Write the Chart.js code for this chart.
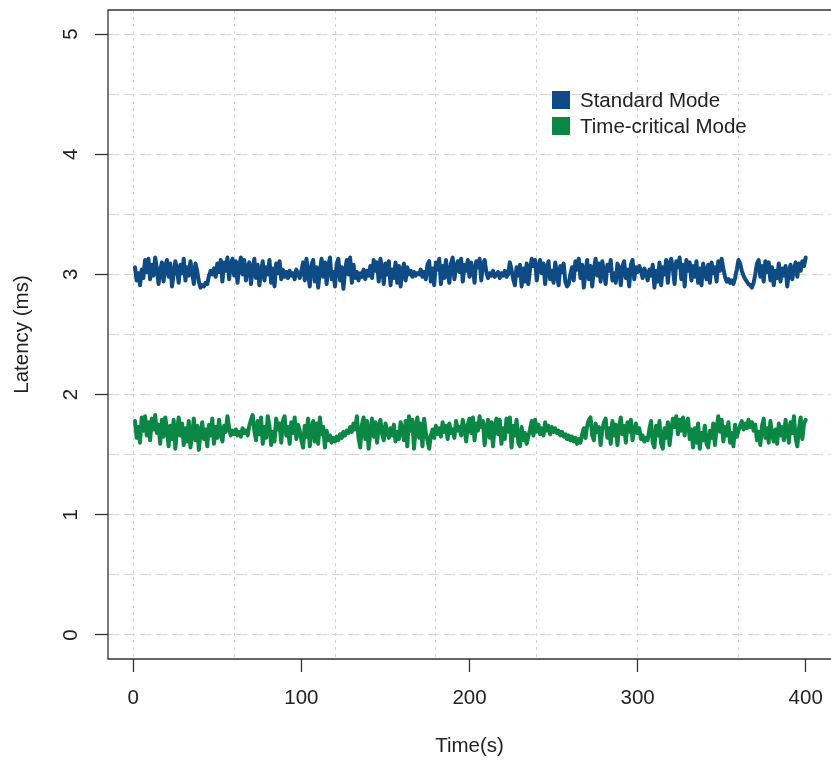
<!DOCTYPE html>
<html>
<head>
<meta charset="utf-8">
<script src="https://cdn.jsdelivr.net/npm/chart.js@4.4.1/dist/chart.umd.min.js"></script>
<style>
  html, body { margin: 0; padding: 0; background: #fff; overflow: hidden; }
  #wrap { width: 831px; height: 762px; }
</style>
</head>
<body>
<div id="wrap"><canvas id="latencyChart" width="831" height="762"></canvas></div>
<script>
// time axis: one sample per second, 1..400
const seconds = Array.from({ length: 400 }, (_, i) => i + 1);

// latency (ms)
const standardMode = [
  3.06, 2.95, 3.01, 2.91, 3.04, 2.97, 3.12, 3.02, 3.13, 2.96, 3.08, 2.99, 3.14, 3.05, 2.92, 3.03, 3.10, 2.94, 3.07, 3.12,
  2.98, 3.09, 2.90, 3.00, 3.11, 3.04, 2.93, 3.08, 3.01, 3.13, 2.95, 3.06, 2.99, 3.11, 3.02, 2.92, 3.09, 3.03, 2.94, 2.89,
  2.91, 2.90, 2.93, 2.92, 2.99, 3.03, 3.00, 3.05, 2.98, 3.09, 3.02, 3.12, 2.94, 3.10, 3.03, 3.14, 2.96, 3.08, 3.13, 2.99,
  3.11, 2.93, 3.07, 3.14, 3.00, 3.12, 2.95, 3.06, 3.10, 2.92, 3.04, 3.13, 2.97, 3.08, 2.91, 3.02, 3.11, 2.95, 3.06, 3.00,
  3.12, 2.93, 3.05, 2.90, 3.09, 3.01, 3.11, 2.96, 3.04, 2.98, 3.02, 2.97, 3.03, 2.99, 3.01, 2.96, 3.04, 3.00, 2.97, 3.03,
  3.10, 2.95, 3.13, 3.01, 2.90, 3.08, 3.12, 2.94, 3.06, 2.89, 3.03, 3.13, 2.98, 3.10, 2.92, 3.07, 3.14, 2.96, 3.02, 2.90,
  3.09, 3.13, 2.95, 3.06, 2.88, 3.04, 3.12, 3.00, 3.14, 2.93, 3.08, 2.97, 3.02, 2.95, 3.01, 2.98, 3.04, 2.96, 3.03, 2.99,
  3.07, 2.97, 3.12, 3.03, 3.10, 2.94, 3.13, 3.05, 2.92, 3.09, 3.00, 3.11, 2.91, 3.04, 2.97, 3.10, 2.93, 3.07, 2.90, 3.03,
  3.09, 2.95, 3.06, 3.00, 3.03, 2.98, 3.02, 2.99, 3.01, 3.00, 3.04, 2.98, 3.02, 2.96, 3.08, 3.11, 2.94, 3.05, 2.91, 3.10,
  3.04, 3.13, 2.92, 3.07, 2.97, 3.12, 3.01, 2.93, 3.09, 3.14, 2.96, 3.06, 3.11, 3.02, 3.13, 2.94, 3.08, 3.03, 3.12, 2.98,
  3.10, 3.04, 2.93, 3.11, 3.06, 3.13, 2.95, 3.09, 3.12, 3.02, 2.97, 3.01, 2.99, 3.03, 2.98, 3.00, 3.02, 2.97, 3.01, 2.99,
  3.03, 2.98, 3.00, 3.10, 3.04, 2.96, 2.91, 3.06, 2.99, 3.08, 2.90, 3.05, 2.94, 3.09, 2.92, 3.04, 3.13, 3.07, 3.12, 2.95,
  3.06, 3.12, 3.01, 3.09, 2.92, 3.05, 3.11, 2.96, 3.03, 2.93, 3.10, 3.00, 2.91, 3.07, 3.02, 3.09, 2.94, 2.90, 2.92, 3.00,
  3.06, 2.95, 3.11, 3.04, 3.13, 2.97, 3.08, 2.89, 3.02, 3.12, 2.96, 3.07, 2.90, 3.04, 3.13, 2.99, 3.09, 2.94, 3.11, 3.01,
  2.92, 3.08, 3.03, 3.12, 2.95, 3.01, 2.93, 3.09, 3.05, 2.91, 3.07, 3.11, 2.97, 3.04, 2.90, 3.08, 3.12, 2.96, 3.06, 3.02,
  3.07, 3.03, 2.97, 3.05, 3.01, 2.95, 3.04, 2.99, 3.08, 2.89, 3.03, 2.94, 3.10, 2.91, 3.06, 3.00, 3.12, 2.93, 3.09, 3.13,
  3.04, 2.92, 3.11, 3.06, 3.14, 2.96, 3.08, 2.90, 3.12, 3.03, 3.10, 2.95, 3.07, 2.98, 3.11, 2.93, 3.05, 2.91, 3.09, 3.02,
  2.96, 3.08, 2.93, 3.10, 3.01, 3.06, 2.94, 3.11, 3.03, 3.13, 3.05, 2.98, 2.94, 2.96, 2.93, 2.95, 2.92, 2.97, 3.04, 3.12,
  3.09, 3.03, 2.99, 2.96, 2.94, 2.92, 2.91, 2.89, 2.93, 3.00, 3.09, 3.12, 2.98, 3.07, 2.94, 3.11, 3.02, 3.10, 2.95, 3.06,
  2.91, 3.03, 2.97, 3.09, 2.94, 3.05, 2.99, 3.07, 2.90, 3.02, 3.08, 2.96, 3.04, 3.10, 2.98, 3.09, 3.03, 3.11, 3.07, 3.14
];

const timeCriticalMode = [
  1.78, 1.64, 1.73, 1.60, 1.81, 1.70, 1.82, 1.66, 1.77, 1.62, 1.80, 1.71, 1.83, 1.68, 1.75, 1.59, 1.79, 1.65, 1.81, 1.72,
  1.57, 1.74, 1.63, 1.79, 1.55, 1.70, 1.81, 1.66, 1.76, 1.58, 1.72, 1.61, 1.78, 1.56, 1.67, 1.80, 1.62, 1.74, 1.54, 1.69,
  1.77, 1.63, 1.71, 1.57, 1.75, 1.66, 1.80, 1.59, 1.73, 1.64, 1.79, 1.68, 1.61, 1.74, 1.69, 1.82, 1.72, 1.66, 1.70, 1.67,
  1.71, 1.66, 1.69, 1.65, 1.72, 1.68, 1.70, 1.66, 1.74, 1.79, 1.83, 1.70, 1.62, 1.78, 1.67, 1.81, 1.59, 1.73, 1.64, 1.82,
  1.74, 1.58, 1.69, 1.61, 1.80, 1.71, 1.76, 1.60, 1.78, 1.82, 1.66, 1.73, 1.59, 1.77, 1.68, 1.81, 1.63, 1.75, 1.70, 1.62,
  1.56, 1.74, 1.65, 1.80, 1.57, 1.71, 1.78, 1.61, 1.76, 1.59, 1.81, 1.67, 1.73, 1.56, 1.70, 1.62, 1.66, 1.60, 1.64, 1.61,
  1.65, 1.62, 1.67, 1.64, 1.69, 1.66, 1.70, 1.68, 1.73, 1.69, 1.76, 1.71, 1.82, 1.64, 1.56, 1.75, 1.81, 1.63, 1.78, 1.55,
  1.69, 1.80, 1.65, 1.77, 1.60, 1.74, 1.79, 1.67, 1.62, 1.76, 1.70, 1.64, 1.72, 1.66, 1.75, 1.61, 1.69, 1.63, 1.77, 1.71,
  1.62, 1.78, 1.57, 1.82, 1.70, 1.79, 1.55, 1.73, 1.81, 1.64, 1.76, 1.57, 1.80, 1.68, 1.62, 1.55, 1.66, 1.71, 1.64, 1.74,
  1.67, 1.72, 1.65, 1.77, 1.69, 1.74, 1.63, 1.76, 1.68, 1.71, 1.64, 1.78, 1.70, 1.73, 1.66, 1.79, 1.72, 1.61, 1.75, 1.80,
  1.68, 1.81, 1.62, 1.76, 1.70, 1.82, 1.73, 1.78, 1.58, 1.71, 1.79, 1.64, 1.77, 1.57, 1.74, 1.80, 1.67, 1.79, 1.59, 1.72,
  1.63, 1.80, 1.69, 1.81, 1.56, 1.74, 1.66, 1.79, 1.60, 1.57, 1.73, 1.62, 1.68, 1.59, 1.65, 1.71, 1.78, 1.66, 1.79, 1.69,
  1.75, 1.67, 1.72, 1.66, 1.77, 1.70, 1.74, 1.67, 1.73, 1.69, 1.72, 1.68, 1.70, 1.66, 1.69, 1.65, 1.67, 1.63, 1.66, 1.62,
  1.65, 1.61, 1.64, 1.59, 1.63, 1.60, 1.67, 1.72, 1.64, 1.74, 1.79, 1.81, 1.66, 1.62, 1.76, 1.69, 1.73, 1.58, 1.71, 1.77,
  1.80, 1.64, 1.72, 1.59, 1.78, 1.66, 1.75, 1.58, 1.73, 1.81, 1.67, 1.74, 1.60, 1.77, 1.69, 1.79, 1.62, 1.70, 1.76, 1.68,
  1.72, 1.63, 1.66, 1.61, 1.64, 1.62, 1.71, 1.78, 1.60, 1.56, 1.74, 1.66, 1.78, 1.59, 1.55, 1.72, 1.64, 1.77, 1.58, 1.70,
  1.80, 1.73, 1.82, 1.67, 1.79, 1.70, 1.81, 1.66, 1.76, 1.80, 1.63, 1.71, 1.56, 1.72, 1.60, 1.76, 1.55, 1.68, 1.62, 1.74,
  1.59, 1.56, 1.70, 1.64, 1.76, 1.58, 1.72, 1.82, 1.69, 1.79, 1.61, 1.73, 1.66, 1.77, 1.60, 1.68, 1.57, 1.75, 1.65, 1.70,
  1.74, 1.78, 1.71, 1.76, 1.72, 1.79, 1.73, 1.77, 1.70, 1.75, 1.62, 1.69, 1.58, 1.74, 1.80, 1.64, 1.72, 1.60, 1.78, 1.67,
  1.61, 1.71, 1.59, 1.76, 1.66, 1.73, 1.62, 1.79, 1.70, 1.60, 1.77, 1.68, 1.82, 1.64, 1.57, 1.72, 1.81, 1.63, 1.76, 1.79
];

const seriesNames = ['Standard Mode', 'Time-critical Mode'];
const seriesColors = ['#0e4a84', '#0a8744'];

const xTickLabels = [0, 100, 200, 300, 400];
const xGridLines = [0, 60, 120, 180, 240, 300, 360];
const yTickLabels = [0, 1, 2, 3, 4, 5];
const yGridLines = [0, 0.5, 1, 1.5, 2, 2.5, 3, 3.5, 4, 4.5, 5];

const FONT = { family: '"Liberation Sans", Arial, Helvetica, sans-serif', size: 20.5 };
const TEXT = '#222';
const GRID = '#d3d3d3';
const AXIS = '#333';

// frame on top, left and bottom; the right side falls just past the canvas edge
const boxPlugin = {
  id: 'box',
  beforeDatasetsDraw(chart) {
    const { ctx, chartArea: a } = chart;
    ctx.save();
    ctx.strokeStyle = AXIS;
    ctx.lineWidth = 1.3;
    ctx.beginPath();
    ctx.moveTo(a.right + 2, a.top);
    ctx.lineTo(a.left, a.top);
    ctx.lineTo(a.left, a.bottom);
    ctx.lineTo(a.right + 2, a.bottom);
    ctx.stroke();
    ctx.restore();
  }
};

// legend inside the plot, no frame
const legendPlugin = {
  id: 'insideLegend',
  afterDraw(chart) {
    const { ctx } = chart;
    ctx.save();
    ctx.font = FONT.size + 'px ' + FONT.family;
    ctx.textBaseline = 'middle';
    chart.data.datasets.forEach((ds, i) => {
      const y = 100 + i * 26;
      ctx.fillStyle = ds.borderColor;
      ctx.fillRect(552, y - 9, 18, 18);
      ctx.fillStyle = TEXT;
      ctx.fillText(ds.label, 580, y + 1);
    });
    ctx.restore();
  }
};

const onTick = (list, on, off) => (c) => (c.tick && list.includes(c.tick.value) ? on : off);

const lineStyle = (color) => ({
  borderColor: color,
  backgroundColor: color,
  borderWidth: 4,
  pointRadius: 0,
  tension: 0,
  borderJoinStyle: 'round',
  borderCapStyle: 'round'
});

new Chart(document.getElementById('latencyChart').getContext('2d'), {
  type: 'line',
  data: {
    labels: seconds,
    datasets: [
      { label: seriesNames[0], data: standardMode, ...lineStyle(seriesColors[0]) },
      { label: seriesNames[1], data: timeCriticalMode, ...lineStyle(seriesColors[1]) }
    ]
  },
  options: {
    responsive: false,
    animation: false,
    devicePixelRatio: 1,
    layout: { padding: { top: 10, right: 0, left: 0, bottom: 0 } },
    plugins: { legend: { display: false }, tooltip: { enabled: false } },
    scales: {
      x: {
        type: 'linear',
        min: -15.05,
        max: 415.05,
        afterBuildTicks(scale) {
          const vals = [...new Set([...xTickLabels, ...xGridLines])].sort((a, b) => a - b);
          scale.ticks = vals.map(v => ({ value: v }));
        },
        afterFit(scale) {
          scale.height = 103;
          scale.paddingLeft = 0;
          scale.paddingRight = 0;
        },
        border: { display: false, dash: [3, 4] },
        grid: {
          color: onTick(xGridLines, GRID, 'transparent'),
          lineWidth: 1,
          tickColor: onTick(xTickLabels, AXIS, 'transparent'),
          tickLength: 13,
          tickWidth: 1.3,
          tickBorderDash: []
        },
        ticks: {
          autoSkip: false,
          maxRotation: 0,
          padding: 14,
          color: TEXT,
          font: FONT,
          callback: (v) => (xTickLabels.includes(v) ? String(v) : '')
        },
        title: { display: true, text: 'Time(s)', color: TEXT, font: FONT, padding: { top: 0, bottom: 3 } }
      },
      y: {
        type: 'linear',
        min: -0.2,
        max: 5.2,
        afterBuildTicks(scale) {
          scale.ticks = yGridLines.map(v => ({ value: v }));
        },
        afterFit(scale) {
          scale.width = 108;
          scale.paddingTop = 0;
          scale.paddingBottom = 0;
        },
        border: { display: false, dash: [11, 5] },
        grid: {
          color: GRID,
          lineWidth: 1,
          tickColor: onTick(yTickLabels, AXIS, 'transparent'),
          tickLength: 13,
          tickWidth: 1.3,
          tickBorderDash: []
        },
        ticks: {
          autoSkip: false,
          minRotation: 90,
          maxRotation: 90,
          crossAlign: 'center',
          padding: 18,
          color: TEXT,
          font: FONT,
          callback: (v) => (yTickLabels.includes(v) ? String(v) : '')
        },
        title: { display: true, text: 'Latency (ms)', color: TEXT, font: FONT, padding: { top: 10, bottom: 0 } }
      }
    }
  },
  plugins: [boxPlugin, legendPlugin]
});
</script>
</body>
</html>
